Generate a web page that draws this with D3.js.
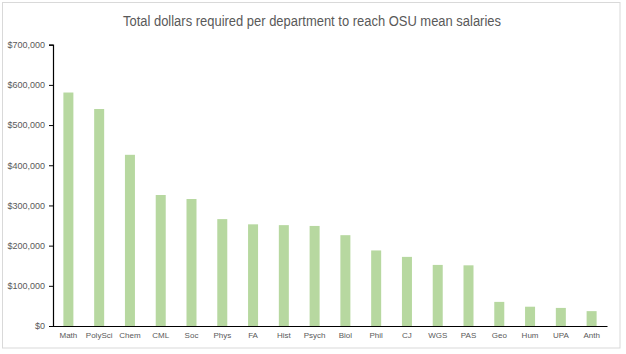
<!DOCTYPE html>
<html>
<head>
<meta charset="utf-8">
<script src="https://cdn.jsdelivr.net/npm/d3@7"></script>
<style>
  html, body { margin: 0; padding: 0; background: #fff; }
  svg { display: block; }
</style>
</head>
<body>
<svg id="chart" width="626" height="354"></svg>
<script>
const title = "Total dollars required per department to reach OSU mean salaries";
const departments = ["Math","PolySci","Chem","CML","Soc","Phys","FA","Hist","Psych","Biol","Phil","CJ","WGS","PAS","Geo","Hum","UPA","Anth"];
const dollarsRequired = [581000,540000,426000,326000,316000,266000,253000,251000,249000,226000,188000,172000,152000,151000,60000,48000,45000,37000];
const yTicks = [0,100000,200000,300000,400000,500000,600000,700000];

(function () {
const svg = d3.select("#chart");
const font = "'Liberation Sans', Arial, sans-serif";

// chart border
svg.append("rect")
  .attr("x", 2.5).attr("y", 2.5)
  .attr("width", 617.5).attr("height", 345.5)
  .attr("fill", "#fff").attr("stroke", "#d9d9d9").attr("stroke-width", 1);

const plotLeft = 53, plotRight = 607, plotTop = 44.7, plotBottom = 326;

const x = d3.scaleBand()
  .domain(departments)
  .range([plotLeft, plotRight])
  .paddingInner(0.675)
  .paddingOuter(0.3375);

const y = d3.scaleLinear()
  .domain([0, 700000])
  .range([plotBottom, plotTop]);

// title
svg.append("text")
  .attr("x", 312).attr("y", 26)
  .attr("text-anchor", "middle")
  .attr("font-family", font)
  .attr("font-size", 14)
  .attr("fill", "#595959")
  .attr("textLength", 378)
  .attr("lengthAdjust", "spacingAndGlyphs")
  .text(title);

// bars
svg.append("g").selectAll("rect")
  .data(departments.map((d, i) => ({ d, v: dollarsRequired[i] })))
  .join("rect")
  .attr("x", e => x(e.d))
  .attr("width", x.bandwidth())
  .attr("y", e => y(e.v))
  .attr("height", e => y(0) - y(e.v))
  .attr("fill", "#b7d8a0");

// y axis
const fmt = d3.format(",");
const yAxis = svg.append("g")
  .attr("transform", `translate(${plotLeft},0)`)
  .call(d3.axisLeft(y).tickValues(yTicks).tickSize(4).tickPadding(4).tickFormat(v => "$" + fmt(v)));
yAxis.select(".domain").attr("stroke", "#000").attr("stroke-width", 1.2);
yAxis.selectAll(".tick line").attr("stroke", "#000");
yAxis.selectAll("text")
  .attr("font-family", font).attr("font-size", 9).attr("fill", "#595959");

// x axis
const xAxis = svg.append("g")
  .attr("transform", `translate(0,${plotBottom})`)
  .call(d3.axisBottom(x).tickSize(0).tickPadding(6));
xAxis.select(".domain").attr("stroke", "#000").attr("stroke-width", 1.2);
xAxis.selectAll("text")
  .attr("font-family", font).attr("font-size", 8).attr("fill", "#595959");
})();
</script>
</body>
</html>
